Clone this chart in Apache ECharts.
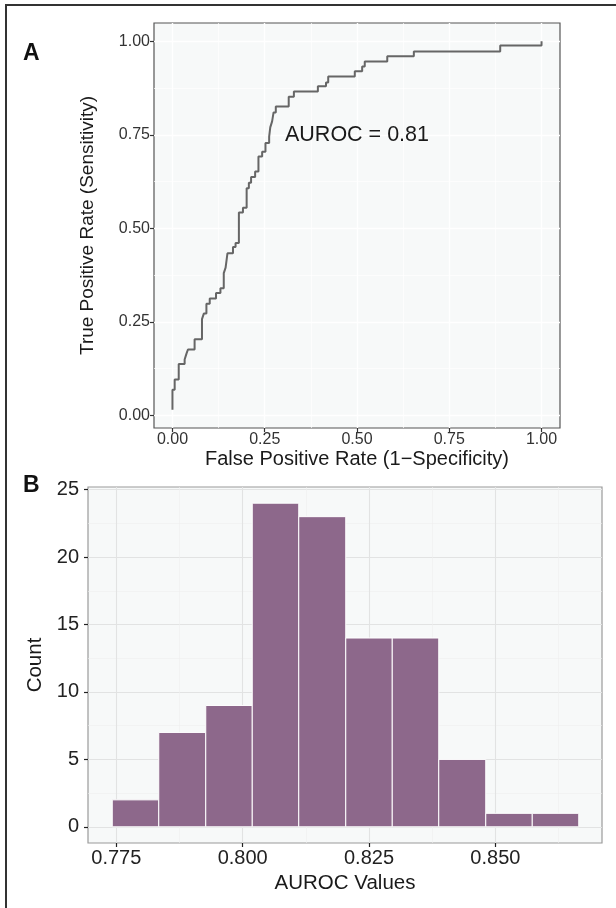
<!DOCTYPE html>
<html>
<head>
<meta charset="utf-8">
<title>ROC curve and AUROC histogram</title>
<script src="https://cdn.jsdelivr.net/npm/echarts@6/dist/echarts.min.js"></script>
<style>
html, body { margin: 0; padding: 0; background: #fff; }
#chart { width: 616px; height: 908px; }
</style>
</head>
<body>
<div id="chart"></div>
<script>
// panel A: ROC curve corner points
const fpr = [0, 0, 0.006, 0.017, 0.033, 0.038, 0.042, 0.060, 0.080, 0.085, 0.092, 0.101, 0.118, 0.130, 0.139,
  0.144, 0.149, 0.164, 0.171, 0.180, 0.191, 0.201, 0.207, 0.213, 0.224, 0.233, 0.243, 0.252, 0.262, 0.265,
  0.270, 0.274, 0.280, 0.315, 0.329, 0.394, 0.416, 0.422, 0.494, 0.514, 0.521, 0.582, 0.654, 0.888, 1.000]
const tpr = [0.015, 0.068, 0.096, 0.137, 0.149, 0.165, 0.176, 0.203, 0.257, 0.272, 0.298, 0.312, 0.327, 0.340, 0.380,
  0.395, 0.433, 0.450, 0.461, 0.542, 0.555, 0.607, 0.622, 0.637, 0.652, 0.692, 0.705, 0.728, 0.745, 0.770,
  0.786, 0.810, 0.826, 0.852, 0.866, 0.880, 0.890, 0.906, 0.920, 0.933, 0.946, 0.960, 0.973, 0.989, 1.000]
const rocTicks = [0, 0.25, 0.5, 0.75, 1]
const rocMinor = [0.125, 0.375, 0.625, 0.875]
const aurocText = 'AUROC = 0.81'

// panel B: histogram of AUROC values
const binEdges = [0.7742, 0.7834, 0.7927, 0.8019, 0.8111, 0.8204, 0.8296, 0.8388, 0.8481, 0.8573, 0.8665]
const counts = [2, 7, 9, 24, 23, 14, 14, 5, 1, 1]
const histXTicks = [0.775, 0.800, 0.825, 0.850]
const histXMinor = [0.7875, 0.8125, 0.8375, 0.8625]
const histYTicks = [0, 5, 10, 15, 20, 25]
const histYMinor = [2.5, 7.5, 12.5, 17.5, 22.5]

const font = 'Liberation Sans, Arial, Helvetica, sans-serif'
const bins = counts.map((c, i) => [binEdges[i], binEdges[i + 1], c])

// hidden axis that only draws minor grid lines
function minorAxis (gridIndex, min, max, values, color, width) {
  return {
    type: 'value',
    gridIndex: gridIndex,
    min: min,
    max: max,
    axisLine: { show: false, onZero: false },
    axisLabel: { show: false },
    axisTick: { show: false, customValues: values },
    splitLine: { show: true, lineStyle: { color: color, width: width } }
  }
}

const chart = echarts.init(document.getElementById('chart'), null, { renderer: 'canvas' })
chart.setOption({
  animation: false,
  textStyle: { fontFamily: font },
  grid: [
    {
      left: 154, top: 23, width: 406, height: 405,
      show: true, backgroundColor: '#F7F9F9', borderColor: '#555555', borderWidth: 1.2
    },
    {
      left: 88, top: 487, width: 514, height: 356,
      show: true, backgroundColor: '#F7F9F9', borderColor: '#9A9A9A', borderWidth: 1.2
    }
  ],
  xAxis: [
    {
      type: 'value',
      gridIndex: 0,
      min: -0.05,
      max: 1.05,
      name: 'False Positive Rate (1\u2212Specificity)',
      nameLocation: 'middle',
      nameGap: 21,
      nameTextStyle: { fontSize: 20, color: '#1a1a1a' },
      axisLine: { show: false, onZero: false },
      axisTick: { show: true, length: 4, customValues: rocTicks, lineStyle: { color: '#333', width: 1.2 } },
      axisLabel: { customValues: rocTicks, fontSize: 16, color: '#333', margin: 4, formatter: v => v.toFixed(2) },
      splitLine: { show: true, lineStyle: { color: '#ffffff', width: 1.4 } }
    },
    minorAxis(0, -0.05, 1.05, rocMinor, '#ffffff', 0.7),
    {
      type: 'value',
      gridIndex: 1,
      min: 0.7694,
      max: 0.8711,
      name: 'AUROC Values',
      nameLocation: 'middle',
      nameGap: 30,
      nameTextStyle: { fontSize: 20.5, color: '#1a1a1a' },
      axisLine: { show: false, onZero: false },
      axisTick: { show: true, length: 4, customValues: histXTicks, lineStyle: { color: '#222', width: 1.2 } },
      axisLabel: { customValues: histXTicks, fontSize: 20, color: '#222', margin: 5, formatter: v => v.toFixed(3) },
      splitLine: { show: true, lineStyle: { color: '#E2E3E3', width: 1.1 } }
    },
    minorAxis(1, 0.7694, 0.8711, histXMinor, '#EEEFEF', 0.6)
  ],
  yAxis: [
    {
      type: 'value',
      gridIndex: 0,
      min: -0.034,
      max: 1.049,
      name: 'True Positive Rate (Sensitivity)',
      nameLocation: 'middle',
      nameGap: 57,
      nameTextStyle: { fontSize: 19, color: '#1a1a1a' },
      axisLine: { show: false, onZero: false },
      axisTick: { show: true, length: 4, customValues: rocTicks, lineStyle: { color: '#333', width: 1.2 } },
      axisLabel: { customValues: rocTicks, fontSize: 16, color: '#333', margin: 4, formatter: v => v.toFixed(2) },
      splitLine: { show: true, lineStyle: { color: '#ffffff', width: 1.4 } }
    },
    minorAxis(0, -0.034, 1.049, rocMinor, '#ffffff', 0.7),
    {
      type: 'value',
      gridIndex: 1,
      min: -1.2,
      max: 25.2,
      name: 'Count',
      nameLocation: 'middle',
      nameGap: 42,
      nameTextStyle: { fontSize: 20.5, color: '#1a1a1a' },
      axisLine: { show: false, onZero: false },
      axisTick: { show: true, length: 4, customValues: histYTicks, lineStyle: { color: '#222', width: 1.2 } },
      axisLabel: { customValues: histYTicks, fontSize: 20, color: '#222', margin: 9 },
      splitLine: { show: true, lineStyle: { color: '#E2E3E3', width: 1.1 } }
    },
    minorAxis(1, -1.2, 25.2, histYMinor, '#EEEFEF', 0.6)
  ],
  graphic: [
    // outer frame (left and top only) and panel letters
    { type: 'line', shape: { x1: 5, y1: 5, x2: 616, y2: 5 }, style: { stroke: '#333', lineWidth: 2 } },
    { type: 'line', shape: { x1: 6, y1: 5, x2: 6, y2: 908 }, style: { stroke: '#333', lineWidth: 2 } },
    { type: 'text', left: 23, top: 42, style: { text: 'A', font: 'bold 23px ' + font, fill: '#111' } },
    { type: 'text', left: 23, top: 474, style: { text: 'B', font: 'bold 23px ' + font, fill: '#111' } }
  ],
  series: [
    {
      name: 'ROC',
      type: 'line',
      xAxisIndex: 0,
      yAxisIndex: 0,
      step: 'end',
      showSymbol: false,
      data: fpr.map((x, i) => [x, tpr[i]]),
      lineStyle: { color: '#666666', width: 2 },
      markPoint: {
        symbol: 'rect',
        symbolSize: 1,
        itemStyle: { color: 'rgba(0,0,0,0)' },
        label: { show: true, position: 'inside', formatter: aurocText, fontSize: 21.5, color: '#1a1a1a', fontFamily: font },
        data: [{ coord: [0.5, 0.75] }]
      }
    },
    {
      name: 'AUROC',
      type: 'custom',
      xAxisIndex: 2,
      yAxisIndex: 2,
      data: bins,
      renderItem: function (params, api) {
        const p0 = api.coord([api.value(0), api.value(2)])
        const p1 = api.coord([api.value(1), 0])
        return {
          type: 'rect',
          shape: { x: p0[0], y: p0[1], width: p1[0] - p0[0], height: p1[1] - p0[1] },
          style: { fill: '#8D688B', stroke: '#ffffff', lineWidth: 1 }
        }
      }
    }
  ]
})
</script>
</body>
</html>
